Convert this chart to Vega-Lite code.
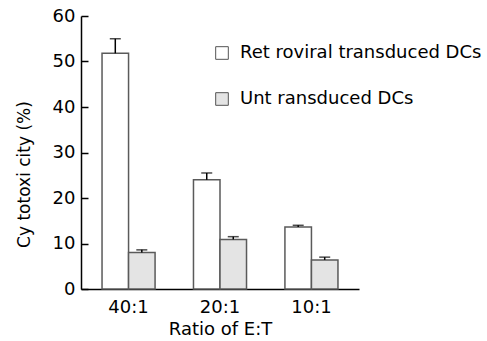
{
  "$schema": "https://vega.github.io/schema/vega-lite/v6.json",
  "width": 278,
  "height": 273,
  "autosize": "none",
  "padding": {"left": 81, "top": 16, "right": 128, "bottom": 52},
  "background": "white",
  "config": {
    "view": {"stroke": null},
    "font": "DejaVu Sans"
  },
  "data": {
    "values": [
      {"ratio": "40:1", "group": "Ret roviral transduced DCs", "value": 51.8, "upper": 55.0},
      {"ratio": "40:1", "group": "Unt ransduced DCs", "value": 8.0, "upper": 8.6},
      {"ratio": "20:1", "group": "Ret roviral transduced DCs", "value": 24.0, "upper": 25.5},
      {"ratio": "20:1", "group": "Unt ransduced DCs", "value": 10.9, "upper": 11.5},
      {"ratio": "10:1", "group": "Ret roviral transduced DCs", "value": 13.6, "upper": 14.0},
      {"ratio": "10:1", "group": "Unt ransduced DCs", "value": 6.4, "upper": 7.0}
    ]
  },
  "encoding": {
    "x": {
      "field": "ratio",
      "type": "nominal",
      "sort": ["40:1", "20:1", "10:1"],
      "scale": {"paddingInner": 0.42, "paddingOuter": 0.23},
      "axis": {
        "title": "Ratio of E:T",
        "labelAngle": 0,
        "labelFontSize": 18,
        "labelColor": "black",
        "labelPadding": 9,
        "ticks": false,
        "domainColor": "black",
        "domainWidth": 1.5,
        "titleFontSize": 18,
        "titleFontWeight": "normal",
        "titleColor": "black",
        "titlePadding": 4
      }
    },
    "xOffset": {
      "field": "group",
      "type": "nominal",
      "scale": {"paddingInner": 0, "paddingOuter": 0}
    }
  },
  "layer": [
    {
      "mark": {"type": "bar", "stroke": "#5a5a5a", "strokeWidth": 1.5},
      "encoding": {
        "y": {
          "field": "value",
          "type": "quantitative",
          "scale": {"domain": [0, 60]},
          "axis": {
            "title": "Cy totoxi city (%)",
            "values": [0, 10, 20, 30, 40, 50, 60],
            "grid": false,
            "tickSize": -7,
            "tickColor": "black",
            "tickWidth": 1.5,
            "domainColor": "black",
            "domainWidth": 1.5,
            "labelFontSize": 18,
            "labelColor": "black",
            "labelPadding": 13,
            "titleFontSize": 17,
            "titleFontWeight": "normal",
            "titleColor": "black",
            "titlePadding": 19,
            "titleY": 158
          }
        },
        "fill": {
          "field": "group",
          "type": "nominal",
          "scale": {"domain": ["Ret roviral transduced DCs", "Unt ransduced DCs"], "range": ["white", "#e4e4e4"]},
          "legend": {
            "title": null,
            "orient": "none",
            "legendX": 132,
            "legendY": 28,
            "symbolType": "square",
            "symbolSize": 160,
            "symbolStrokeColor": "#555",
            "symbolStrokeWidth": 1,
            "labelFontSize": 18,
            "labelColor": "black",
            "labelLimit": 400,
            "rowPadding": 28,
            "labelOffset": 9
          }
        }
      }
    },
    {
      "mark": {"type": "rule", "color": "black", "strokeWidth": 1.5},
      "encoding": {
        "y": {"field": "value", "type": "quantitative"},
        "y2": {"field": "upper"}
      }
    },
    {
      "mark": {"type": "tick", "color": "black", "thickness": 1.5, "size": 11, "orient": "horizontal"},
      "encoding": {
        "y": {"field": "upper", "type": "quantitative"}
      }
    }
  ]
}
